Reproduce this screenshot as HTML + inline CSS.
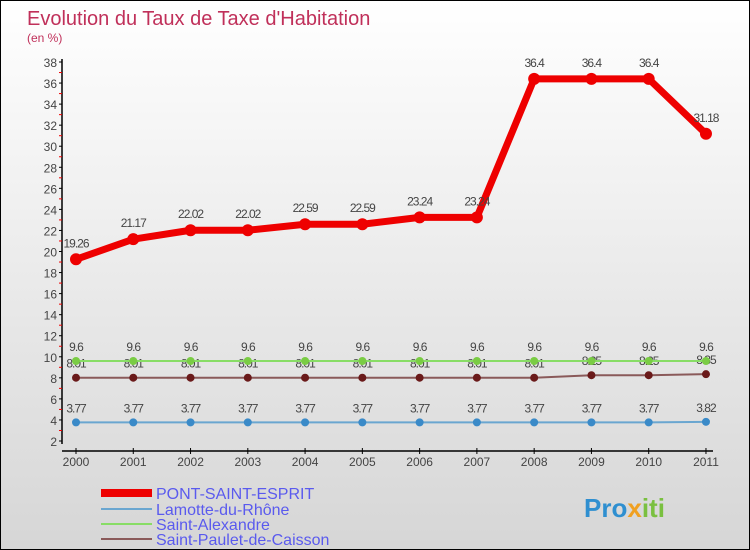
<!DOCTYPE html>
<html><head><meta charset="utf-8"><style>
body{margin:0}
#c{width:748px;height:548px;border:1px solid #000;background:linear-gradient(#fff,#d6d6d6);position:relative;overflow:hidden;font-family:"Liberation Sans",sans-serif}
text{font-family:"Liberation Sans",sans-serif}
</style></head><body>
<div id="c">
<svg id="s" width="748" height="548">
<text x="26" y="24" font-size="20" fill="#c0305a">Evolution du Taux de Taxe d'Habitation</text>
<text x="26" y="41" font-size="12" fill="#c0305a">(en %)</text>
<g id="axes"></g><g id="series"></g>
<g font-size="16" fill="#5a5aee">
<rect x="100" y="488" width="51" height="8" fill="#e00"/>
<text x="155" y="498">PONT-SAINT-ESPRIT</text>
<line x1="100" x2="151" y1="508" y2="508" stroke="#6aa6d0" stroke-width="2"/>
<text x="155" y="514">Lamotte-du-Rhône</text>
<line x1="100" x2="151" y1="523" y2="523" stroke="#88dd66" stroke-width="2"/>
<text x="155" y="529">Saint-Alexandre</text>
<line x1="100" x2="151" y1="538" y2="538" stroke="#8a5a5a" stroke-width="2"/>
<text x="155" y="544">Saint-Paulet-de-Caisson</text>
</g>
<text x="583" y="516" font-size="26" font-weight="bold" fill="#2f8fd0">Pro<tspan fill="#f0a020">x</tspan><tspan fill="#7ac040">iti</tspan></text>
</svg></div>
<script>
const years=[2000,2001,2002,2003,2004,2005,2006,2007,2008,2009,2010,2011];
const pont=[19.26,21.17,22.02,22.02,22.59,22.59,23.24,23.24,36.4,36.4,36.4,31.18];
const pontLabels=["19.26","21.17","22.02","22.02","22.59","22.59","23.24","23.24","36.4","36.4","36.4","31.18"];
const lamotte=[3.77,3.77,3.77,3.77,3.77,3.77,3.77,3.77,3.77,3.77,3.77,3.82];
const alexandre=[9.6,9.6,9.6,9.6,9.6,9.6,9.6,9.6,9.6,9.6,9.6,9.6];
const paulet=[8.01,8.01,8.01,8.01,8.01,8.01,8.01,8.01,8.01,8.25,8.25,8.35];
const yTicks=[2,4,6,8,10,12,14,16,18,20,22,24,26,28,30,32,34,36,38];
const NS="http://www.w3.org/2000/svg";
const X=i=>75+i*57.27, Y=v=>440-(v-2)*(379/36);
function mk(t,a,p){const e=document.createElementNS(NS,t);for(const k in a)e.setAttribute(k,a[k]);p.appendChild(e);return e;}
const ax=document.getElementById('axes'),sg=document.getElementById('series');
let l=mk('line',{x1:61,x2:61,y1:58,y2:443,stroke:'#000','stroke-width':1.5},ax);


l=mk('line',{x1:61,x2:712,y1:450,y2:450,stroke:'#000','stroke-width':1.5},ax);


yTicks.forEach((v,i)=>{
 mk('line',{x1:58,x2:61,y1:Y(v),y2:Y(v),stroke:'#000'},ax);
 if(i<yTicks.length-1)mk('line',{x1:58,x2:61,y1:Y(v+1),y2:Y(v+1),stroke:'#e00'},ax);
 const t=mk('text',{x:56,y:Y(v)+5,'font-size':12,fill:'#444','text-anchor':'end'},ax);t.textContent=v;
 
 
});
years.forEach((y,i)=>{
 mk('line',{x1:X(i),x2:X(i),y1:447,y2:453,stroke:'#000'},ax);
 const t=mk('text',{x:X(i),y:465,'font-size':12,fill:'#444','text-anchor':'middle'},ax);t.textContent=y;
 
 
});
function series(vals,labels,col,dot,w,r,name,dy){
 const p=mk('polyline',{points:vals.map((v,i)=>X(i)+','+Y(v)).join(' '),fill:'none',stroke:col,'stroke-width':w,'stroke-linejoin':'round'},sg);
 
 
 vals.forEach((v,i)=>{
  const c=mk('circle',{cx:X(i),cy:Y(v),r:r,fill:dot},sg);
  
  
  const t=mk('text',{x:X(i),y:Y(v)-dy,'font-size':12,fill:'#444','text-anchor':'middle','letter-spacing':'-1'},sg);t.textContent=labels[i];
  
  
 });
}
series(paulet,paulet.map(String),'#8a5a5a','#6a1a1a',2,4,'saint-paulet',10);
series(lamotte,lamotte.map(String),'#6aa6d0','#3a8ac8',2,4,'lamotte',10);
series(alexandre,alexandre.map(String),'#88dd66','#7acc44',2,4,'saint-alexandre',10);
series(pont,pontLabels,'#ee0000','#ee0000',7,6,'pont-saint-esprit',12);
</script>
</body></html>
